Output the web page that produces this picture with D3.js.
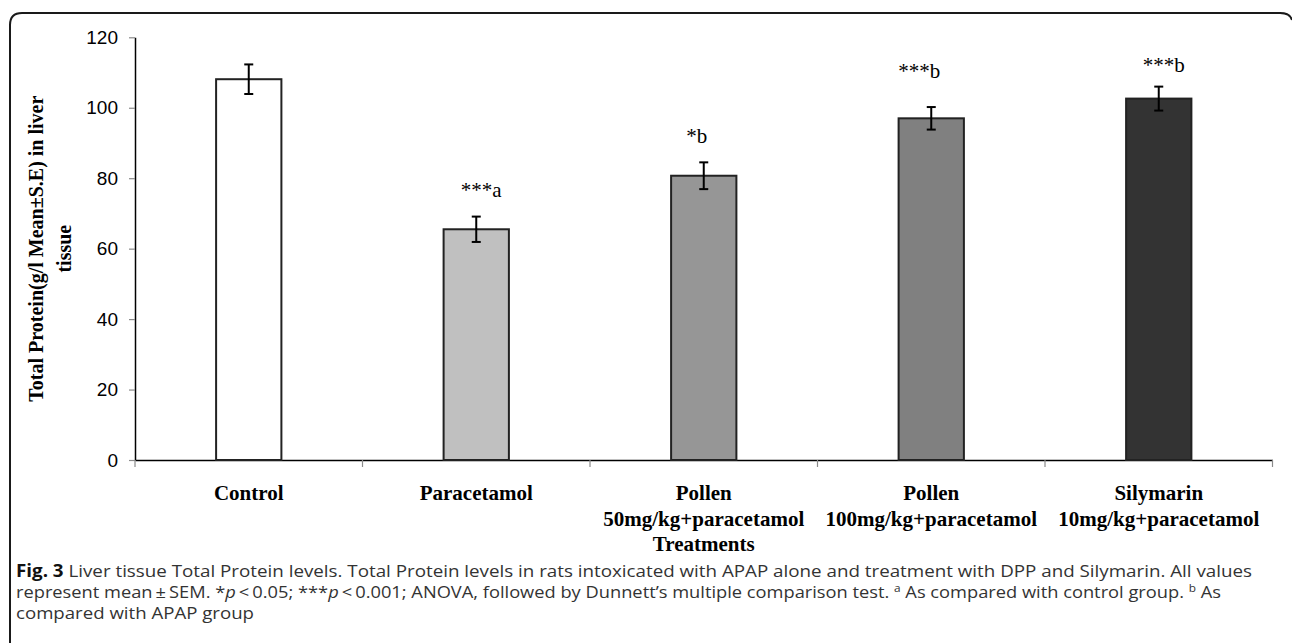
<!DOCTYPE html>
<html>
<head>
<meta charset="utf-8">
<script src="https://cdn.jsdelivr.net/npm/d3@7"></script>
<style>
  html, body { margin: 0; padding: 0; background: #fff; }
  svg { display: block; }
</style>
</head>
<body>
<svg id="chart" width="1292" height="643"></svg>
<script>
// data
const groups = ["Control", "Paracetamol", "Pollen50", "Pollen100", "Silymarin"];
const groupLabels = [
  ["Control"],
  ["Paracetamol"],
  ["Pollen", "50mg/kg+paracetamol"],
  ["Pollen", "100mg/kg+paracetamol"],
  ["Silymarin", "10mg/kg+paracetamol"]
];
const means = [108.1, 65.5, 80.7, 97.0, 102.6];
const sems = [4.2, 3.6, 3.8, 3.2, 3.4];
const sigLabels = ["", "***a", "*b", "***b", "***b"];
const barColors = ["#ffffff", "#c0c0c0", "#969696", "#808080", "#333333"];
const yTicks = [0, 20, 40, 60, 80, 100, 120];

const captionLines = [
  "Liver tissue Total Protein levels. Total Protein levels in rats intoxicated with APAP alone and treatment with DPP and Silymarin. All values",
  "represent mean\u2009\u00b1\u2009SEM. *",
  "compared with APAP group"
];

// hand placed significance marks in the original (pixel nudges, not data)
const sigDx = [0, 5, -7, -12, 5];
const sigLift = [0, 20, 19, 29, 15];

const svg = d3.select("#chart");
const margin = { left: 135, right: 1272.5, top: 37.3, bottom: 460 };

// frame round the figure (open at the bottom, right side runs off the page)
svg.append("path")
  .attr("d", "M10,650 L10,25 Q10,13 22,13 L1280,13 Q1290,13 1292,20")
  .attr("fill", "none")
  .attr("stroke", "#1a1a1a")
  .attr("stroke-width", 2);

const x = d3.scaleBand()
  .domain(groups)
  .range([margin.left, margin.right]);

const y = d3.scaleLinear()
  .domain([0, 120])
  .range([margin.bottom, margin.top]);

const barW = x.bandwidth() * 0.287;

// y axis
const yAxis = svg.append("g")
  .attr("transform", `translate(${margin.left},0)`)
  .call(d3.axisLeft(y).tickValues(yTicks).tickSize(6).tickSizeOuter(0).tickPadding(11));
yAxis.select(".domain").attr("stroke", "#000").attr("stroke-width", 1.5);
yAxis.selectAll(".tick line").attr("stroke", "#8a8a8a").attr("stroke-width", 1.2);
yAxis.selectAll(".tick text")
  .attr("font-family", "Liberation Sans, Arial, sans-serif")
  .attr("font-size", 19)
  .attr("fill", "#000");

// x axis line + boundary ticks
const xAxis = svg.append("g")
  .attr("transform", `translate(0,${margin.bottom})`)
  .call(d3.axisBottom(x).tickSize(0).tickSizeOuter(0).tickFormat(""));
xAxis.select(".domain").attr("stroke", "#000").attr("stroke-width", 1.5);
xAxis.selectAll(".tick").remove();

const bounds = groups.map(g => x(g)).concat([margin.right]);
svg.append("g")
  .selectAll("line")
  .data(bounds)
  .join("line")
  .attr("x1", d => d).attr("x2", d => d)
  .attr("y1", margin.bottom).attr("y2", margin.bottom + 7)
  .attr("stroke", "#8a8a8a")
  .attr("stroke-width", 1.2);

// bars
const rows = groups.map((g, i) => ({
  g: g, mean: means[i], se: sems[i], sig: sigLabels[i], color: barColors[i],
  dx: sigDx[i], lift: sigLift[i]
}));

const cx = d => x(d.g) + x.bandwidth() / 2;

svg.append("g")
  .selectAll("rect")
  .data(rows)
  .join("rect")
  .attr("x", d => cx(d) - barW / 2)
  .attr("y", d => y(d.mean))
  .attr("width", barW)
  .attr("height", d => y(0) - y(d.mean))
  .attr("fill", d => d.color)
  .attr("stroke", "#222")
  .attr("stroke-width", 2);

// error bars
const err = svg.append("g")
  .selectAll("g")
  .data(rows)
  .join("g")
  .attr("stroke", "#000")
  .attr("stroke-width", 2);

err.append("line")
  .attr("x1", cx).attr("x2", cx)
  .attr("y1", d => y(d.mean + d.se))
  .attr("y2", d => y(d.mean - d.se));
err.append("line")
  .attr("x1", d => cx(d) - 4.5).attr("x2", d => cx(d) + 4.5)
  .attr("y1", d => y(d.mean + d.se)).attr("y2", d => y(d.mean + d.se));
err.append("line")
  .attr("x1", d => cx(d) - 4.5).attr("x2", d => cx(d) + 4.5)
  .attr("y1", d => y(d.mean - d.se)).attr("y2", d => y(d.mean - d.se));

// significance marks
svg.append("g")
  .selectAll("text")
  .data(rows.filter(d => d.sig))
  .join("text")
  .attr("x", d => cx(d) + d.dx)
  .attr("y", d => y(d.mean + d.se) - d.lift)
  .attr("text-anchor", "middle")
  .attr("font-family", "Liberation Serif, Times New Roman, serif")
  .attr("font-size", 21)
  .attr("fill", "#000")
  .text(d => d.sig);

// category labels
const catG = svg.append("g")
  .attr("font-family", "Liberation Serif, Times New Roman, serif")
  .attr("font-weight", "bold")
  .attr("font-size", 21)
  .attr("fill", "#000")
  .attr("text-anchor", "middle");

groups.forEach(function(g, i) {
  groupLabels[i].forEach(function(line, j) {
    catG.append("text")
      .attr("x", x(g) + x.bandwidth() / 2)
      .attr("y", 500 + j * 25.5)
      .text(line);
  });
});

catG.append("text")
  .attr("x", (margin.left + margin.right) / 2)
  .attr("y", 551)
  .text("Treatments");

// y axis title
const yTitle = svg.append("text")
  .attr("transform", `translate(0,${(margin.top + margin.bottom) / 2}) rotate(-90)`)
  .attr("font-family", "Liberation Serif, Times New Roman, serif")
  .attr("font-weight", "bold")
  .attr("font-size", 20)
  .attr("fill", "#000")
  .attr("text-anchor", "middle");
yTitle.append("tspan").attr("x", 0).attr("y", 43).text("Total Protein(g/l Mean\u00b1S.E) in liver");
yTitle.append("tspan").attr("x", 0).attr("y", 71).text("tissue");

// caption
const cap = svg.append("g")
  .attr("font-family", "Open Sans, Noto Sans, sans-serif")
  .attr("font-size", 17)
  .attr("fill", "#333");

const l1 = cap.append("text").attr("x", 16).attr("y", 577);
l1.append("tspan").attr("font-weight", "bold").attr("fill", "#111").text("Fig. 3");
l1.append("tspan").text(" " + captionLines[0]);
l1.attr("textLength", 1236).attr("lengthAdjust", "spacingAndGlyphs");

const l2 = cap.append("text").attr("x", 16).attr("y", 598);
l2.append("tspan").text(captionLines[1]);
l2.append("tspan").attr("font-style", "italic").text("p");
l2.append("tspan").text("\u2009<\u20090.05; ***");
l2.append("tspan").attr("font-style", "italic").text("p");
l2.append("tspan").text("\u2009<\u20090.001; ANOVA, followed by Dunnett\u2019s multiple comparison test. ");
l2.append("tspan").attr("font-size", 11).attr("dy", -6).text("a");
l2.append("tspan").attr("dy", 6).text(" As compared with control group. ");
l2.append("tspan").attr("font-size", 11).attr("dy", -6).text("b");
l2.append("tspan").attr("dy", 6).text(" As");
l2.attr("textLength", 1205).attr("lengthAdjust", "spacingAndGlyphs");

cap.append("text").attr("x", 16).attr("y", 619)
  .attr("textLength", 238).attr("lengthAdjust", "spacingAndGlyphs")
  .text(captionLines[2]);
</script>
</body>
</html>
